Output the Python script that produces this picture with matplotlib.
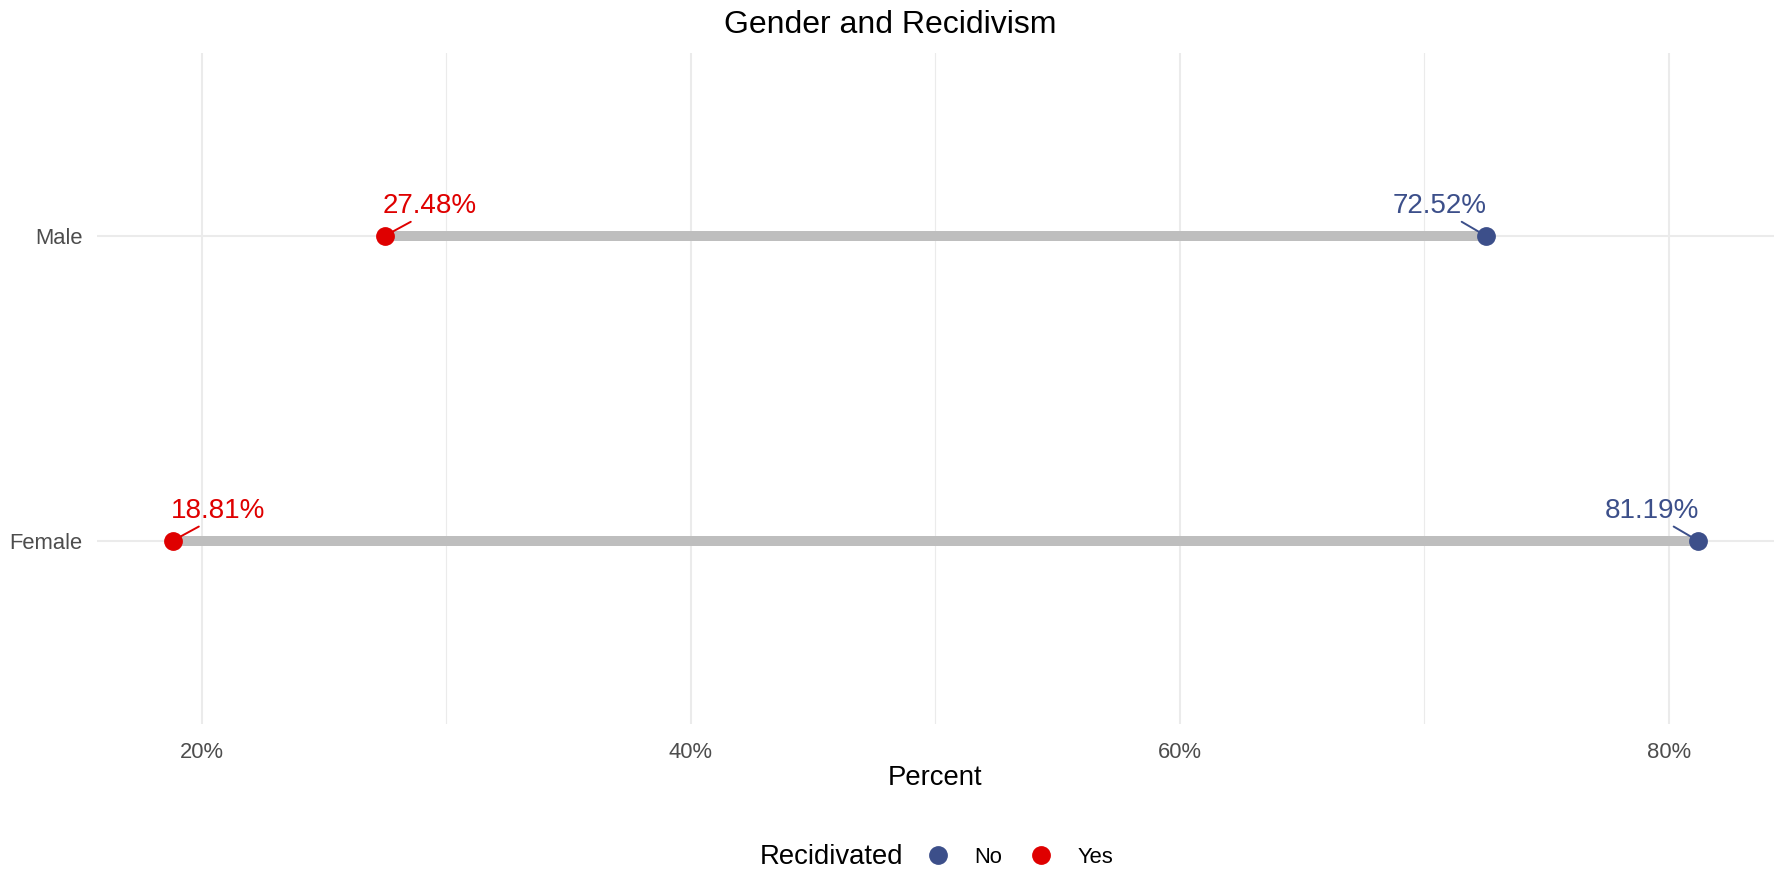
import matplotlib
matplotlib.use("Agg")
import matplotlib.pyplot as plt
from matplotlib.lines import Line2D
from matplotlib.ticker import FixedLocator, FuncFormatter

# ---- data ----
genders = ["Female", "Male"]
pct_yes = [18.81, 27.48]
pct_no = [81.19, 72.52]
x_major_ticks = [20, 40, 60, 80]
x_minor_ticks = [30, 50, 70]
title = "Gender and Recidivism"
xlabel = "Percent"
legend_title = "Recidivated"
legend_labels = ["No", "Yes"]

# ---- style ----
plt.rcParams["font.family"] = ["Liberation Sans", "DejaVu Sans"]
col_no = "#3C4F8A"
col_yes = "#DF0000"
col_seg = "#BEBEBE"
col_grid = "#EBEBEB"
col_tick = "#4D4D4D"

W, H, DPI = 1781, 872, 100
fig = plt.figure(figsize=(W / DPI, H / DPI), dpi=DPI)
ax = fig.add_axes([96.7 / W, 1 - 723.5 / H, (1774 - 96.7) / W, (723.5 - 53) / H])

ypos = list(range(1, len(genders) + 1))

for y, a, b in zip(ypos, pct_yes, pct_no):
    ax.plot([a, b], [y, y], color=col_seg, lw=7.2, solid_capstyle="butt", zorder=2)
ax.plot(pct_no, ypos, "o", color=col_no, ms=12.5, zorder=3)
ax.plot(pct_yes, ypos, "o", color=col_yes, ms=12.5, zorder=3)

# labels (repel-like)
for y, v in zip(ypos, pct_yes):
    ax.annotate(f"{v:.2f}%", xy=(v, y), xytext=(32.5, 21.5), textcoords="offset points",
                ha="center", va="center", color=col_yes, fontsize=20,
                arrowprops=dict(arrowstyle="-", color=col_yes, lw=1.4,
                                relpos=(0.35, 0.0), shrinkA=0, shrinkB=3.5), zorder=4)
for y, v in zip(ypos, pct_no):
    ax.annotate(f"{v:.2f}%", xy=(v, y), xytext=(-33, 21.5), textcoords="offset points",
                ha="center", va="center", color=col_no, fontsize=20,
                arrowprops=dict(arrowstyle="-", color=col_no, lw=1.4,
                                relpos=(0.68, 0.0), shrinkA=0, shrinkB=3.5), zorder=4)

lo, hi = min(pct_yes + pct_no), max(pct_yes + pct_no)
exp = 0.05 * (hi - lo)
ax.set_xlim(lo - exp, hi + exp)
ax.set_ylim(0.4, len(genders) + 0.6)

ax.xaxis.set_major_locator(FixedLocator(x_major_ticks))
ax.xaxis.set_minor_locator(FixedLocator(x_minor_ticks))
ax.xaxis.set_major_formatter(FuncFormatter(lambda v, p: f"{v:.0f}%"))
ax.set_yticks(ypos)
ax.set_yticklabels(genders)

ax.grid(True, which="major", axis="both", color=col_grid, lw=1.5, zorder=0)
ax.grid(True, which="minor", axis="x", color=col_grid, lw=0.8, zorder=0)
ax.set_axisbelow(True)
for s in ax.spines.values():
    s.set_visible(False)
ax.tick_params(axis="both", which="both", length=0)
ax.tick_params(axis="x", labelsize=15.8, labelcolor=col_tick, pad=13)
ax.tick_params(axis="y", labelsize=15.8, labelcolor=col_tick, pad=10)

fig.text(0.5, 1 - 25 / H, title, ha="center", va="center", fontsize=23, color="black")
fig.text(ax.get_position().x0 + ax.get_position().width / 2, 1 - 778 / H, xlabel,
         ha="center", va="center", fontsize=19.8, color="black")

# legend
fig.text(760 / W, 1 - 857 / H, legend_title, ha="left", va="center", fontsize=19.8)
handles = [Line2D([], [], ls="none", marker="o", color=col_no, ms=12.5),
           Line2D([], [], ls="none", marker="o", color=col_yes, ms=12.5)]
fig.legend(handles, legend_labels, loc="center left", bbox_to_anchor=(925 / W, 1 - 857 / H),
           ncol=2, frameon=False, fontsize=15.8, handletextpad=1.05, columnspacing=1.18,
           handlelength=1.2, borderpad=0, borderaxespad=0)

fig.savefig("out.png", dpi=DPI)
